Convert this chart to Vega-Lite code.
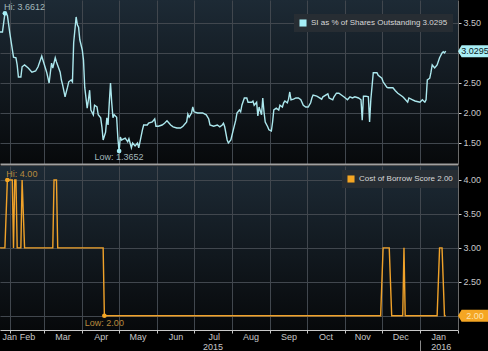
{
  "$schema": "https://vega.github.io/schema/vega-lite/v6.json",
  "background": "#000000",
  "padding": 0,
  "autosize": {"type": "pad"},
  "bounds": "flush",
  "spacing": 2,
  "resolve": {"scale": {"color": "independent"}, "legend": {"color": "independent"}},
  "config": {
    "view": {"stroke": null},
    "font": "Liberation Sans",
    "axis": {"labelFont": "Liberation Sans", "labelFontSize": 9, "labelColor": "#c8c8c8", "gridColor": "#41474e", "gridWidth": 1, "labelFlush": false, "labelOverlap": false, "title": null},
    "legend": {"labelFont": "Liberation Sans"}
  },
  "datasets": {
    "si": [
      {"d":"2015-01-24","v":3.35},{"d":"2015-01-26","v":3.35},{"d":"2015-01-28","v":3.6612},{"d":"2015-01-30","v":3.63},
      {"d":"2015-02-01","v":3.33},{"d":"2015-02-04","v":2.93},{"d":"2015-02-06","v":2.92},{"d":"2015-02-07","v":2.80},
      {"d":"2015-02-08","v":2.60},{"d":"2015-02-10","v":2.60},{"d":"2015-02-11","v":2.77},{"d":"2015-02-13","v":2.80},
      {"d":"2015-02-16","v":2.75},{"d":"2015-02-19","v":2.68},{"d":"2015-02-22","v":2.70},{"d":"2015-02-24","v":2.77},
      {"d":"2015-02-27","v":2.95},{"d":"2015-02-28","v":2.88},{"d":"2015-03-03","v":2.68},{"d":"2015-03-05","v":2.50},
      {"d":"2015-03-06","v":2.67},{"d":"2015-03-07","v":2.83},{"d":"2015-03-08","v":2.75},{"d":"2015-03-10","v":2.92},
      {"d":"2015-03-11","v":2.85},{"d":"2015-03-14","v":2.68},{"d":"2015-03-15","v":2.55},{"d":"2015-03-16","v":2.47},
      {"d":"2015-03-18","v":2.27},{"d":"2015-03-20","v":2.43},{"d":"2015-03-21","v":2.52},{"d":"2015-03-23","v":2.55},
      {"d":"2015-03-24","v":2.52},{"d":"2015-03-25","v":3.17},{"d":"2015-03-27","v":3.60},{"d":"2015-03-28","v":3.47},
      {"d":"2015-03-29","v":3.43},{"d":"2015-03-30","v":3.22},{"d":"2015-04-01","v":3.05},{"d":"2015-04-02","v":2.88},
      {"d":"2015-04-03","v":2.43},{"d":"2015-04-05","v":2.08},{"d":"2015-04-06","v":2.22},{"d":"2015-04-07","v":2.38},
      {"d":"2015-04-08","v":2.05},{"d":"2015-04-10","v":1.97},{"d":"2015-04-11","v":2.13},{"d":"2015-04-13","v":2.10},
      {"d":"2015-04-14","v":1.97},{"d":"2015-04-16","v":1.92},{"d":"2015-04-17","v":1.77},{"d":"2015-04-18","v":1.55},
      {"d":"2015-04-20","v":1.68},{"d":"2015-04-21","v":1.92},{"d":"2015-04-22","v":1.80},{"d":"2015-04-23","v":2.17},
      {"d":"2015-04-24","v":2.50},{"d":"2015-04-25","v":2.17},{"d":"2015-04-26","v":1.92},{"d":"2015-04-27","v":1.97},
      {"d":"2015-04-29","v":1.93},{"d":"2015-04-30","v":1.58},{"d":"2015-05-01","v":1.3652},{"d":"2015-05-02","v":1.60},
      {"d":"2015-05-03","v":1.55},{"d":"2015-05-06","v":1.58},{"d":"2015-05-08","v":1.52},{"d":"2015-05-09","v":1.57},
      {"d":"2015-05-11","v":1.42},{"d":"2015-05-12","v":1.50},{"d":"2015-05-14","v":1.45},{"d":"2015-05-16","v":1.50},
      {"d":"2015-05-17","v":1.42},{"d":"2015-05-20","v":1.72},{"d":"2015-05-21","v":1.80},{"d":"2015-05-24","v":1.80},
      {"d":"2015-05-25","v":1.83},{"d":"2015-05-28","v":1.85},{"d":"2015-05-30","v":1.90},{"d":"2015-05-31","v":1.78},
      {"d":"2015-06-02","v":1.78},{"d":"2015-06-05","v":1.80},{"d":"2015-06-07","v":1.83},{"d":"2015-06-09","v":1.87},
      {"d":"2015-06-12","v":1.80},{"d":"2015-06-14","v":1.77},{"d":"2015-06-17","v":1.75},{"d":"2015-06-20","v":1.75},
      {"d":"2015-06-22","v":1.78},{"d":"2015-06-25","v":1.85},{"d":"2015-06-26","v":1.98},{"d":"2015-06-27","v":1.93},
      {"d":"2015-06-29","v":2.00},{"d":"2015-06-30","v":2.10},{"d":"2015-07-01","v":2.02},{"d":"2015-07-04","v":2.00},
      {"d":"2015-07-08","v":2.00},{"d":"2015-07-11","v":1.97},{"d":"2015-07-13","v":1.90},{"d":"2015-07-14","v":1.80},
      {"d":"2015-07-17","v":1.78},{"d":"2015-07-20","v":1.80},{"d":"2015-07-22","v":1.77},{"d":"2015-07-24","v":1.80},
      {"d":"2015-07-25","v":1.83},{"d":"2015-07-26","v":1.77},{"d":"2015-07-28","v":1.55},{"d":"2015-07-29","v":1.50},
      {"d":"2015-07-31","v":1.55},{"d":"2015-08-02","v":1.72},{"d":"2015-08-04","v":1.88},{"d":"2015-08-05","v":2.00},
      {"d":"2015-08-07","v":2.05},{"d":"2015-08-08","v":2.02},{"d":"2015-08-09","v":2.13},{"d":"2015-08-11","v":2.25},
      {"d":"2015-08-13","v":2.25},{"d":"2015-08-14","v":2.18},{"d":"2015-08-17","v":2.18},{"d":"2015-08-18","v":2.20},
      {"d":"2015-08-19","v":2.13},{"d":"2015-08-21","v":2.18},{"d":"2015-08-22","v":1.95},{"d":"2015-08-23","v":2.10},
      {"d":"2015-08-25","v":1.97},{"d":"2015-08-26","v":2.25},{"d":"2015-08-27","v":2.02},{"d":"2015-08-28","v":1.85},
      {"d":"2015-08-30","v":1.77},{"d":"2015-08-31","v":1.72},{"d":"2015-09-02","v":1.70},{"d":"2015-09-03","v":1.85},
      {"d":"2015-09-04","v":2.05},{"d":"2015-09-06","v":2.08},{"d":"2015-09-08","v":2.05},{"d":"2015-09-09","v":2.13},
      {"d":"2015-09-11","v":2.10},{"d":"2015-09-12","v":2.17},{"d":"2015-09-13","v":2.20},{"d":"2015-09-15","v":2.17},
      {"d":"2015-09-16","v":2.23},{"d":"2015-09-17","v":2.35},{"d":"2015-09-18","v":2.22},{"d":"2015-09-20","v":2.23},
      {"d":"2015-09-22","v":2.25},{"d":"2015-09-24","v":2.25},{"d":"2015-09-26","v":2.22},{"d":"2015-09-28","v":2.13},
      {"d":"2015-09-30","v":2.10},{"d":"2015-10-02","v":2.10},{"d":"2015-10-04","v":2.17},{"d":"2015-10-05","v":2.25},
      {"d":"2015-10-06","v":2.30},{"d":"2015-10-09","v":2.28},{"d":"2015-10-10","v":2.27},{"d":"2015-10-13","v":2.23},
      {"d":"2015-10-14","v":2.27},{"d":"2015-10-18","v":2.32},{"d":"2015-10-19","v":2.25},{"d":"2015-10-22","v":2.22},
      {"d":"2015-10-23","v":2.27},{"d":"2015-10-25","v":2.33},{"d":"2015-10-27","v":2.33},{"d":"2015-10-29","v":2.30},
      {"d":"2015-10-31","v":2.27},{"d":"2015-11-03","v":2.22},{"d":"2015-11-05","v":2.27},{"d":"2015-11-07","v":2.25},
      {"d":"2015-11-09","v":2.27},{"d":"2015-11-12","v":2.25},{"d":"2015-11-14","v":2.22},{"d":"2015-11-15","v":1.88},
      {"d":"2015-11-16","v":2.28},{"d":"2015-11-18","v":2.28},{"d":"2015-11-20","v":2.27},{"d":"2015-11-21","v":1.85},
      {"d":"2015-11-22","v":2.22},{"d":"2015-11-24","v":2.67},{"d":"2015-11-27","v":2.67},{"d":"2015-11-28","v":2.63},
      {"d":"2015-12-01","v":2.58},{"d":"2015-12-02","v":2.52},{"d":"2015-12-05","v":2.43},{"d":"2015-12-06","v":2.42},
      {"d":"2015-12-10","v":2.42},{"d":"2015-12-12","v":2.37},{"d":"2015-12-14","v":2.33},{"d":"2015-12-18","v":2.27},
      {"d":"2015-12-19","v":2.25},{"d":"2015-12-22","v":2.18},{"d":"2015-12-23","v":2.25},{"d":"2015-12-26","v":2.22},
      {"d":"2015-12-28","v":2.20},{"d":"2016-01-01","v":2.18},{"d":"2016-01-03","v":2.22},{"d":"2016-01-05","v":2.18},
      {"d":"2016-01-06","v":2.22},{"d":"2016-01-07","v":2.55},{"d":"2016-01-09","v":2.58},{"d":"2016-01-10","v":2.68},
      {"d":"2016-01-11","v":2.80},{"d":"2016-01-13","v":2.75},{"d":"2016-01-15","v":2.80},{"d":"2016-01-17","v":2.92},
      {"d":"2016-01-19","v":3.00},{"d":"2016-01-20","v":3.02},{"d":"2016-01-21","v":3.00},{"d":"2016-01-22","v":3.0295}
    ],
    "siHL": [
      {"d":"2015-01-28","v":3.6612,"kind":"Hi","label":"Hi: 3.6612"},
      {"d":"2015-05-01","v":1.3652,"kind":"Low","label":"Low: 1.3652"}
    ],
    "siLast": [{"v":3.0295}],
    "cob": [
      {"d":"2015-01-24","v":3},{"d":"2015-01-28","v":3},{"d":"2015-01-30","v":4},{"d":"2015-02-03","v":4},
      {"d":"2015-02-04","v":3},{"d":"2015-02-05","v":4},{"d":"2015-02-06","v":4},{"d":"2015-02-07","v":3},
      {"d":"2015-02-10","v":3},{"d":"2015-02-11","v":4},{"d":"2015-02-13","v":3},{"d":"2015-03-08","v":3},
      {"d":"2015-03-09","v":4},{"d":"2015-03-11","v":4},{"d":"2015-03-12","v":3},{"d":"2015-04-18","v":3},
      {"d":"2015-04-19","v":2},{"d":"2015-11-30","v":2},{"d":"2015-12-02","v":3},{"d":"2015-12-07","v":3},
      {"d":"2015-12-09","v":2},{"d":"2015-12-18","v":2},{"d":"2015-12-19","v":3},{"d":"2015-12-20","v":2},
      {"d":"2016-01-15","v":2},{"d":"2016-01-17","v":3},{"d":"2016-01-19","v":3},{"d":"2016-01-21","v":2},
      {"d":"2016-01-22","v":2}
    ],
    "cobHL": [
      {"d":"2015-01-30","v":4,"kind":"Hi","label":"Hi: 4.00"},
      {"d":"2015-04-19","v":2,"kind":"Low","label":"Low: 2.00"}
    ],
    "cobLast": [{"v":2}]
  },
  "vconcat": [
    {
      "width": 458,
      "height": 164,
      "view": {"stroke": null, "fill": {"gradient": "linear", "x1": 0, "y1": 0, "x2": 0, "y2": 1, "stops": [{"offset": 0, "color": "#1d2a35"}, {"offset": 1, "color": "#07090b"}]}},
      "layer": [
        {
          "data": {"name": "si"},
          "mark": {"type": "line", "color": "#ace8ee", "strokeWidth": 1.4, "clip": true},
          "encoding": {
            "x": {"field": "d", "type": "temporal",
              "scale": {"type": "utc", "domain": [{"year": 2015, "month": 1, "date": 24, "utc": true}, {"year": 2016, "month": 2, "date": 1, "utc": true}]},
              "axis": {"orient": "bottom", "values": [
                {"year":2015,"month":2,"date":1,"utc":true},{"year":2015,"month":3,"date":1,"utc":true},{"year":2015,"month":4,"date":1,"utc":true},
                {"year":2015,"month":5,"date":1,"utc":true},{"year":2015,"month":6,"date":1,"utc":true},{"year":2015,"month":7,"date":1,"utc":true},
                {"year":2015,"month":8,"date":1,"utc":true},{"year":2015,"month":9,"date":1,"utc":true},{"year":2015,"month":10,"date":1,"utc":true},
                {"year":2015,"month":11,"date":1,"utc":true},{"year":2015,"month":12,"date":1,"utc":true},{"year":2016,"month":1,"date":1,"utc":true}],
                "grid": true, "ticks": false, "labels": false, "domain": true, "domainColor": "#a0a0a0", "domainWidth": 2}
            },
            "y": {"field": "v", "type": "quantitative",
              "scale": {"domain": [1.15, 3.883], "nice": false, "zero": false},
              "axis": {"orient": "right", "values": [1.5, 2, 2.5, 3, 3.5], "grid": true,
                "labelExpr": "datum.value == 3 ? '' : format(datum.value, '.2f')",
                "tickSize": 3, "tickColor": "#d0d0d0", "domainColor": "#6a6a6a", "labelPadding": 2}
            }
          }
        },
        {
          "data": {"name": "siHL"},
          "mark": {"type": "point", "filled": true, "size": 22, "opacity": 1},
          "encoding": {
            "x": {"field": "d", "type": "temporal"},
            "y": {"field": "v", "type": "quantitative"},
            "color": {"datum": "SI as % of Shares Outstanding 3.0295", "scale": {"range": ["#a4eef6"]},
              "legend": {"orient": "none", "legendX": 294, "legendY": 14, "title": null, "fillColor": "#272d33", "padding": 5,
                "symbolType": "square", "symbolSize": 50, "symbolStrokeWidth": 0, "labelFontSize": 8, "labelColor": "#d8d8d8", "labelLimit": 300}}
          }
        },
        {
          "data": {"name": "siHL"},
          "transform": [{"filter": "datum.kind == 'Hi'"}],
          "mark": {"type": "text", "align": "left", "baseline": "alphabetic", "dx": -1, "dy": -3, "fontSize": 9, "color": "#a3b8bb"},
          "encoding": {"x": {"field": "d", "type": "temporal"}, "y": {"field": "v", "type": "quantitative"}, "text": {"field": "label"}}
        },
        {
          "data": {"name": "siHL"},
          "transform": [{"filter": "datum.kind == 'Low'"}],
          "mark": {"type": "text", "align": "center", "baseline": "middle", "dy": 6, "fontSize": 9, "color": "#a3b8bb"},
          "encoding": {"x": {"field": "d", "type": "temporal"}, "y": {"field": "v", "type": "quantitative"}, "text": {"field": "label"}}
        },
        {
          "data": {"name": "siLast"},
          "mark": {"type": "point", "shape": "M0,0L0.6,-1H5V1H0.6Z", "filled": true, "size": 144, "color": "#a8eef5", "opacity": 1},
          "encoding": {"x": {"value": "width"}, "y": {"field": "v", "type": "quantitative"}}
        },
        {
          "data": {"name": "siLast"},
          "mark": {"type": "text", "align": "center", "baseline": "middle", "dx": 17, "fontSize": 9, "color": "#0b1a1d"},
          "encoding": {"x": {"value": "width"}, "y": {"field": "v", "type": "quantitative"}, "text": {"field": "v", "type": "quantitative", "format": ".4f"}}
        }
      ]
    },
    {
      "width": 458,
      "height": 164,
      "view": {"stroke": null, "fill": {"gradient": "linear", "x1": 0, "y1": 0, "x2": 0, "y2": 1, "stops": [{"offset": 0, "color": "#1d2a35"}, {"offset": 1, "color": "#07090b"}]}},
      "resolve": {"axis": {"x": "independent"}},
      "layer": [
        {
          "data": {"name": "cob"},
          "mark": {"type": "line", "color": "#f0a22a", "strokeWidth": 1.4, "clip": true},
          "encoding": {
            "x": {"field": "d", "type": "temporal",
              "scale": {"type": "utc", "domain": [{"year": 2015, "month": 1, "date": 24, "utc": true}, {"year": 2016, "month": 2, "date": 1, "utc": true}]},
              "axis": {"orient": "bottom", "values": [
                {"year":2015,"month":2,"date":1,"utc":true},{"year":2015,"month":3,"date":1,"utc":true},{"year":2015,"month":4,"date":1,"utc":true},
                {"year":2015,"month":5,"date":1,"utc":true},{"year":2015,"month":6,"date":1,"utc":true},{"year":2015,"month":7,"date":1,"utc":true},
                {"year":2015,"month":8,"date":1,"utc":true},{"year":2015,"month":9,"date":1,"utc":true},{"year":2015,"month":10,"date":1,"utc":true},
                {"year":2015,"month":11,"date":1,"utc":true},{"year":2015,"month":12,"date":1,"utc":true},{"year":2016,"month":1,"date":1,"utc":true},
                {"year":2016,"month":2,"date":1,"utc":true}],
                "grid": true, "ticks": true, "tickSize": 3, "tickColor": "#c8c8c8", "labels": false, "domain": true, "domainColor": "#c8c8c8", "domainWidth": 1}
            },
            "y": {"field": "v", "type": "quantitative",
              "scale": {"domain": [1.79, 4.206], "nice": false, "zero": false},
              "axis": {"orient": "right", "values": [2, 2.5, 3, 3.5, 4], "grid": true,
                "labelExpr": "datum.value == 2 ? '' : format(datum.value, '.2f')",
                "tickSize": 3, "tickColor": "#d0d0d0", "domainColor": "#6a6a6a", "labelPadding": 2}
            }
          }
        },
        {
          "data": {"name": "cobHL"},
          "mark": {"type": "point", "filled": true, "size": 22, "opacity": 1},
          "encoding": {
            "x": {"field": "d", "type": "temporal",
              "axis": {"orient": "bottom", "values": [
                {"year":2015,"month":1,"date":31,"hours":12,"utc":true},{"year":2015,"month":2,"date":15,"utc":true},{"year":2015,"month":3,"date":16,"utc":true},
                {"year":2015,"month":4,"date":16,"utc":true},{"year":2015,"month":5,"date":16,"utc":true},{"year":2015,"month":6,"date":16,"utc":true},
                {"year":2015,"month":7,"date":17,"utc":true},{"year":2015,"month":8,"date":16,"utc":true},{"year":2015,"month":9,"date":16,"utc":true},
                {"year":2015,"month":10,"date":16,"utc":true},{"year":2015,"month":11,"date":15,"utc":true},{"year":2015,"month":12,"date":16,"utc":true},
                {"year":2016,"month":1,"date":16,"utc":true}],
                "labelExpr": "utcFormat(datum.value, '%b')", "grid": false, "ticks": false, "domain": false, "labelPadding": 2}
            },
            "y": {"field": "v", "type": "quantitative"},
            "color": {"datum": "Cost of Borrow Score 2.00", "scale": {"range": ["#f5a623"]},
              "legend": {"orient": "none", "legendX": 342, "legendY": 4, "title": null, "fillColor": "#272d33", "padding": 5,
                "symbolType": "square", "symbolSize": 50, "symbolStrokeWidth": 0, "labelFontSize": 8, "labelColor": "#d8d8d8", "labelLimit": 300}}
          }
        },
        {
          "data": {"name": "cobHL"},
          "transform": [{"filter": "datum.kind == 'Hi'"}],
          "mark": {"type": "text", "align": "left", "baseline": "middle", "dx": -1, "dy": -6, "fontSize": 9, "color": "#b98a3e"},
          "encoding": {
            "x": {"field": "d", "type": "temporal",
              "axis": {"orient": "bottom", "values": [{"year":2015,"month":7,"date":16,"utc":true},{"year":2016,"month":1,"date":18,"utc":true}],
                "labelExpr": "utcFormat(datum.value, '%Y')", "grid": false, "ticks": false, "domain": false, "labelPadding": 12}
            },
            "y": {"field": "v", "type": "quantitative"}, "text": {"field": "label"}}
        },
        {
          "data": {"name": "cobHL"},
          "transform": [{"filter": "datum.kind == 'Low'"}],
          "mark": {"type": "text", "align": "center", "baseline": "middle", "dy": 7, "fontSize": 9, "color": "#b98a3e"},
          "encoding": {
            "x": {"field": "d", "type": "temporal",
              "axis": {"orient": "bottom", "values": [{"year":2016,"month":1,"date":1,"utc":true}], "labels": false, "grid": false, "domain": false,
                "ticks": true, "tickSize": 11, "tickColor": "#8a8a8a", "offset": 10}
            },
            "y": {"field": "v", "type": "quantitative"}, "text": {"field": "label"}}
        },
        {
          "data": {"name": "cobLast"},
          "mark": {"type": "point", "shape": "M0,0L0.6,-1H5V1H0.6Z", "filled": true, "size": 144, "color": "#f5a623", "opacity": 1},
          "encoding": {"x": {"value": "width"}, "y": {"field": "v", "type": "quantitative"}}
        },
        {
          "data": {"name": "cobLast"},
          "mark": {"type": "text", "align": "center", "baseline": "middle", "dx": 17, "fontSize": 9, "color": "#fde3b0"},
          "encoding": {"x": {"value": "width"}, "y": {"field": "v", "type": "quantitative"}, "text": {"field": "v", "type": "quantitative", "format": ".2f"}}
        }
      ]
    }
  ]
}
